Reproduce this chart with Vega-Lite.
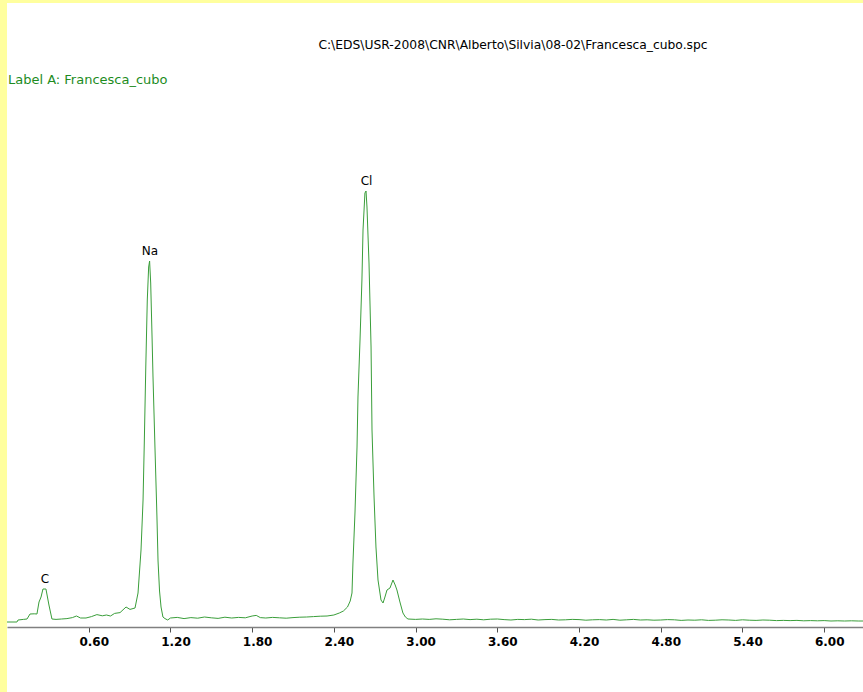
{
  "$schema": "https://vega.github.io/schema/vega-lite/v6.json",
  "width": 856,
  "height": 689,
  "autosize": "none",
  "padding": {"left": 7, "top": 3, "right": 0, "bottom": 0},
  "background": "#FFFF9E",
  "config": {"view": {"fill": "white", "stroke": null}},
  "datasets": {
    "spectrum": [
      {"keV": 0.0, "counts": 25}, {"keV": 0.073, "counts": 25}, {"keV": 0.081, "counts": 35}, {"keV": 0.12, "counts": 38},
      {"keV": 0.147, "counts": 40}, {"keV": 0.169, "counts": 65}, {"keV": 0.2, "counts": 66}, {"keV": 0.22, "counts": 65},
      {"keV": 0.235, "counts": 125}, {"keV": 0.25, "counts": 150}, {"keV": 0.264, "counts": 190}, {"keV": 0.286, "counts": 190},
      {"keV": 0.308, "counts": 110}, {"keV": 0.33, "counts": 40}, {"keV": 0.36, "counts": 38}, {"keV": 0.4, "counts": 40},
      {"keV": 0.44, "counts": 42}, {"keV": 0.48, "counts": 47}, {"keV": 0.51, "counts": 55}, {"keV": 0.54, "counts": 45},
      {"keV": 0.58, "counts": 45}, {"keV": 0.62, "counts": 52}, {"keV": 0.66, "counts": 62}, {"keV": 0.7, "counts": 56},
      {"keV": 0.73, "counts": 60}, {"keV": 0.76, "counts": 55}, {"keV": 0.79, "counts": 68}, {"keV": 0.83, "counts": 72},
      {"keV": 0.874, "counts": 100}, {"keV": 0.903, "counts": 88}, {"keV": 0.94, "counts": 95}, {"keV": 0.962, "counts": 170},
      {"keV": 0.984, "counts": 385}, {"keV": 0.999, "counts": 635}, {"keV": 1.008, "counts": 920}, {"keV": 1.019, "counts": 1300},
      {"keV": 1.03, "counts": 1635}, {"keV": 1.04, "counts": 1800}, {"keV": 1.047, "counts": 1830}, {"keV": 1.055, "counts": 1720},
      {"keV": 1.065, "counts": 1450}, {"keV": 1.072, "counts": 1250}, {"keV": 1.087, "counts": 885}, {"keV": 1.101, "counts": 550},
      {"keV": 1.109, "counts": 330}, {"keV": 1.12, "counts": 180}, {"keV": 1.131, "counts": 100}, {"keV": 1.145, "counts": 50},
      {"keV": 1.16, "counts": 42}, {"keV": 1.18, "counts": 35}, {"keV": 1.2, "counts": 45}, {"keV": 1.25, "counts": 48},
      {"keV": 1.3, "counts": 42}, {"keV": 1.35, "counts": 47}, {"keV": 1.4, "counts": 44}, {"keV": 1.45, "counts": 50},
      {"keV": 1.5, "counts": 46}, {"keV": 1.55, "counts": 43}, {"keV": 1.6, "counts": 49}, {"keV": 1.65, "counts": 45},
      {"keV": 1.7, "counts": 48}, {"keV": 1.75, "counts": 46}, {"keV": 1.8, "counts": 55}, {"keV": 1.83, "counts": 58},
      {"keV": 1.86, "counts": 47}, {"keV": 1.9, "counts": 45}, {"keV": 1.95, "counts": 48}, {"keV": 2.0, "counts": 46},
      {"keV": 2.05, "counts": 44}, {"keV": 2.1, "counts": 47}, {"keV": 2.15, "counts": 49}, {"keV": 2.2, "counts": 50},
      {"keV": 2.25, "counts": 52}, {"keV": 2.3, "counts": 54}, {"keV": 2.35, "counts": 55}, {"keV": 2.4, "counts": 60},
      {"keV": 2.44, "counts": 70}, {"keV": 2.47, "counts": 80}, {"keV": 2.5, "counts": 100}, {"keV": 2.52, "counts": 130},
      {"keV": 2.533, "counts": 170}, {"keV": 2.54, "counts": 320}, {"keV": 2.555, "counts": 570}, {"keV": 2.57, "counts": 900},
      {"keV": 2.577, "counts": 1150}, {"keV": 2.592, "counts": 1435}, {"keV": 2.606, "counts": 1735}, {"keV": 2.614, "counts": 1985},
      {"keV": 2.628, "counts": 2170}, {"keV": 2.636, "counts": 2180}, {"keV": 2.643, "counts": 2100}, {"keV": 2.658, "counts": 1820},
      {"keV": 2.673, "counts": 1400}, {"keV": 2.68, "counts": 985}, {"keV": 2.695, "counts": 650}, {"keV": 2.709, "counts": 400},
      {"keV": 2.724, "counts": 235}, {"keV": 2.746, "counts": 135}, {"keV": 2.761, "counts": 120}, {"keV": 2.775, "counts": 150},
      {"keV": 2.79, "counts": 185}, {"keV": 2.812, "counts": 195}, {"keV": 2.834, "counts": 235}, {"keV": 2.85, "counts": 210},
      {"keV": 2.863, "counts": 185}, {"keV": 2.885, "counts": 125}, {"keV": 2.907, "counts": 70}, {"keV": 2.925, "counts": 50},
      {"keV": 2.944, "counts": 40}, {"keV": 3.0, "counts": 38}, {"keV": 3.05, "counts": 40}, {"keV": 3.1, "counts": 38},
      {"keV": 3.15, "counts": 41}, {"keV": 3.2, "counts": 39}, {"keV": 3.25, "counts": 36}, {"keV": 3.3, "counts": 38},
      {"keV": 3.35, "counts": 40}, {"keV": 3.4, "counts": 37}, {"keV": 3.45, "counts": 39}, {"keV": 3.5, "counts": 36},
      {"keV": 3.55, "counts": 39}, {"keV": 3.6, "counts": 40}, {"keV": 3.65, "counts": 37}, {"keV": 3.7, "counts": 35},
      {"keV": 3.75, "counts": 38}, {"keV": 3.8, "counts": 37}, {"keV": 3.85, "counts": 39}, {"keV": 3.9, "counts": 35},
      {"keV": 3.95, "counts": 37}, {"keV": 4.0, "counts": 38}, {"keV": 4.05, "counts": 35}, {"keV": 4.1, "counts": 36},
      {"keV": 4.15, "counts": 38}, {"keV": 4.2, "counts": 37}, {"keV": 4.25, "counts": 34}, {"keV": 4.3, "counts": 36},
      {"keV": 4.35, "counts": 37}, {"keV": 4.4, "counts": 35}, {"keV": 4.45, "counts": 38}, {"keV": 4.5, "counts": 34},
      {"keV": 4.55, "counts": 36}, {"keV": 4.6, "counts": 38}, {"keV": 4.65, "counts": 35}, {"keV": 4.7, "counts": 36},
      {"keV": 4.75, "counts": 34}, {"keV": 4.8, "counts": 35}, {"keV": 4.85, "counts": 37}, {"keV": 4.9, "counts": 36},
      {"keV": 4.95, "counts": 33}, {"keV": 5.0, "counts": 35}, {"keV": 5.05, "counts": 34}, {"keV": 5.1, "counts": 36},
      {"keV": 5.15, "counts": 33}, {"keV": 5.2, "counts": 34}, {"keV": 5.25, "counts": 36}, {"keV": 5.3, "counts": 35},
      {"keV": 5.35, "counts": 33}, {"keV": 5.4, "counts": 36}, {"keV": 5.45, "counts": 34}, {"keV": 5.5, "counts": 33},
      {"keV": 5.55, "counts": 35}, {"keV": 5.6, "counts": 34}, {"keV": 5.65, "counts": 32}, {"keV": 5.7, "counts": 33},
      {"keV": 5.75, "counts": 32}, {"keV": 5.8, "counts": 33}, {"keV": 5.85, "counts": 31}, {"keV": 5.9, "counts": 32},
      {"keV": 5.95, "counts": 31}, {"keV": 6.0, "counts": 32}, {"keV": 6.05, "counts": 30}, {"keV": 6.1, "counts": 31},
      {"keV": 6.15, "counts": 30}, {"keV": 6.2, "counts": 31}, {"keV": 6.25, "counts": 30}, {"keV": 6.285, "counts": 30}
    ],
    "peaks": [
      {"element": "C", "keV": 0.279, "counts": 190},
      {"element": "Na", "keV": 1.05, "counts": 1830},
      {"element": "Cl", "keV": 2.64, "counts": 2180}
    ]
  },
  "layer": [
    {
      "data": {"name": "spectrum"},
      "mark": {"type": "line", "color": "#3a9e3a", "strokeWidth": 1, "clip": true},
      "encoding": {
        "x": {
          "field": "keV", "type": "quantitative",
          "scale": {"domain": [0, 6.285], "nice": false, "zero": false},
          "axis": {
            "title": null, "grid": false, "offset": -65,
            "values": [0.6, 1.2, 1.8, 2.4, 3.0, 3.6, 4.2, 4.8, 5.4, 6.0],
            "format": ".2f",
            "domainColor": "#808080", "domainWidth": 1.5,
            "tickColor": "#505050", "tickSize": 5, "tickWidth": 1,
            "labelFont": "DejaVu Sans", "labelFontSize": 12, "labelFontWeight": "bold",
            "labelColor": "black", "labelPadding": 4, "labelOffset": 5
          }
        },
        "y": {
          "field": "counts", "type": "quantitative",
          "scale": {"domain": [-325, 3120], "nice": false, "zero": false},
          "axis": null
        }
      }
    },
    {
      "data": {"name": "peaks"},
      "mark": {"type": "text", "font": "DejaVu Sans", "fontSize": 12, "color": "black", "baseline": "bottom", "dy": -3},
      "encoding": {
        "x": {"field": "keV", "type": "quantitative"},
        "y": {"field": "counts", "type": "quantitative"},
        "text": {"field": "element"}
      }
    },
    {
      "data": {"values": [{"t": "C:\\EDS\\USR-2008\\CNR\\Alberto\\Silvia\\08-02\\Francesca_cubo.spc"}]},
      "mark": {"type": "text", "font": "DejaVu Sans", "fontSize": 12.3, "color": "black", "align": "center", "baseline": "middle"},
      "encoding": {
        "x": {"datum": 3.715, "type": "quantitative"},
        "y": {"datum": 2910, "type": "quantitative"},
        "text": {"field": "t"}
      }
    },
    {
      "data": {"values": [{"t": "Label A: Francesca_cubo"}]},
      "mark": {"type": "text", "font": "DejaVu Sans", "fontSize": 13, "color": "#1E8C1E", "align": "left", "baseline": "middle"},
      "encoding": {
        "x": {"datum": 0.007, "type": "quantitative"},
        "y": {"datum": 2735, "type": "quantitative"},
        "text": {"field": "t"}
      }
    }
  ]
}
